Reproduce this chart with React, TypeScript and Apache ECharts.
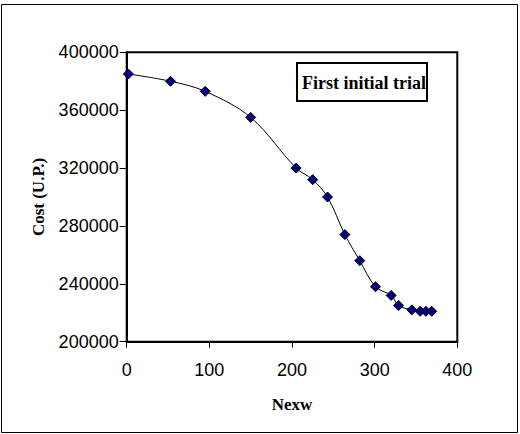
import React, { useEffect, useRef } from "react";
import * as echarts from "echarts";

const nexw = [2, 53, 95, 150, 205, 225, 243, 264, 282, 301, 320, 329, 345, 355, 362, 369];
const cost = [385000, 380000, 373000, 355000, 320000, 312000, 300000, 274000, 256000, 238000, 232000, 225000, 222000, 221000, 221000, 221000];
const seriesName = "First initial trial";
const xTitle = "Nexw";
const yTitle = "Cost (U.P.)";

export default function App() {
  const ref = useRef<HTMLDivElement>(null);
  useEffect(() => {
    document.body.style.margin = "0";
    const chart = echarts.init(ref.current!, null, { renderer: "svg" });
    const data = nexw.map((x, i) => [x, cost[i]]);
    chart.setOption({
      animation: false,
      backgroundColor: "#ffffff",
      grid: {
        left: 126.7,
        top: 52.3,
        right: 62.7,
        bottom: 92.3,
        show: true,
        borderColor: "#000",
        borderWidth: 2,
        containLabel: false,
      },
      xAxis: {
        type: "value",
        min: 0,
        max: 400,
        interval: 100,
        name: xTitle,
        nameLocation: "middle",
        nameGap: 54,
        nameTextStyle: { fontFamily: "Liberation Serif", fontWeight: "bold", fontSize: 17, color: "#000" },
        axisLine: { show: true, lineStyle: { color: "#000", width: 2 } },
        axisTick: { show: true, length: 6, lineStyle: { color: "#000", width: 1 } },
        axisLabel: { fontFamily: "Liberation Sans", fontSize: 18, color: "#000", margin: 19 },
        splitLine: { show: false },
      },
      yAxis: {
        type: "value",
        min: 200000,
        max: 400000,
        interval: 40000,
        name: yTitle,
        nameLocation: "middle",
        nameGap: 80,
        nameRotate: 90,
        nameTextStyle: { fontFamily: "Liberation Serif", fontWeight: "bold", fontSize: 17, color: "#000" },
        axisLine: { show: true, lineStyle: { color: "#000", width: 2 } },
        axisTick: { show: true, length: 7, lineStyle: { color: "#000", width: 1 } },
        axisLabel: {
          fontFamily: "Liberation Sans",
          fontSize: 18,
          color: "#000",
          margin: 8,
          formatter: (v: number) => String(v),
        },
        splitLine: { show: false },
      },
      series: [
        {
          name: seriesName,
          type: "line",
          data,
          smooth: 0.35,
          symbol: "diamond",
          symbolSize: 10,
          lineStyle: { color: "#000", width: 1 },
          itemStyle: { color: "#000080", borderColor: "#000", borderWidth: 1 },
        },
      ],
      graphic: [
        {
          type: "rect",
          shape: { x: 1.5, y: 4.5, width: 516, height: 428 },
          style: { fill: "none", stroke: "#000", lineWidth: 1 },
        },
        {
          type: "rect",
          shape: { x: 297, y: 63, width: 130, height: 38 },
          style: { fill: "#fff", stroke: "#000", lineWidth: 2 },
          z: 10,
        },
        {
          type: "text",
          x: 302,
          y: 83,
          z: 11,
          style: {
            text: seriesName,
            fontFamily: "Liberation Serif",
            fontWeight: "bold",
            fontSize: 18,
            fill: "#000",
            verticalAlign: "middle",
            align: "left",
          },
        },
      ],
    });
    return () => chart.dispose();
  }, []);
  return <div ref={ref} style={{ width: 520, height: 434 }} />;
}
